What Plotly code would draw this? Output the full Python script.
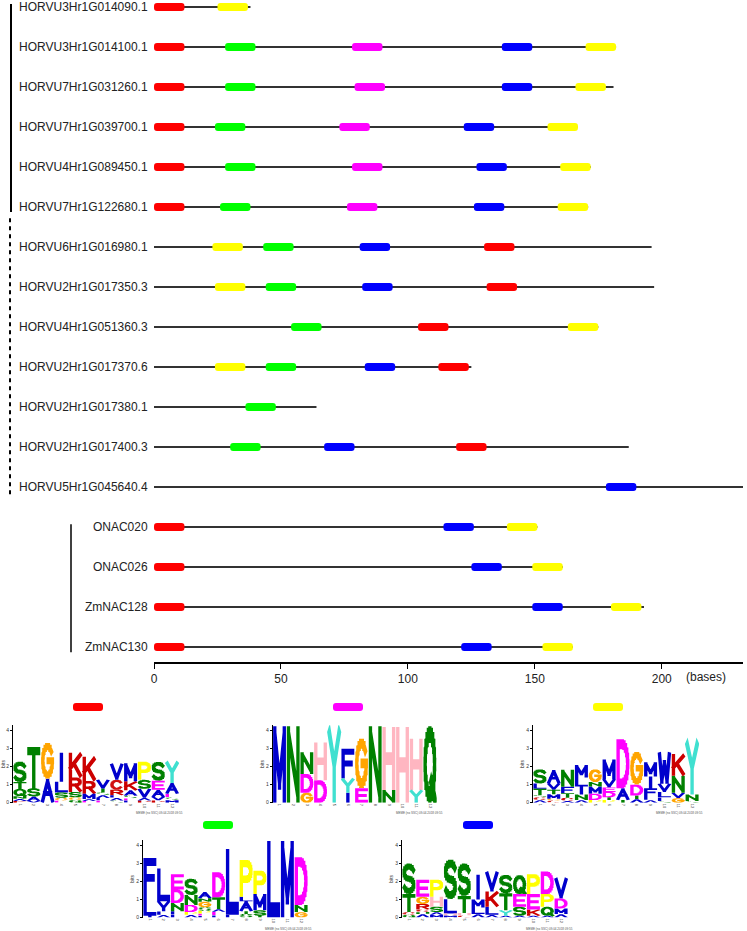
import math
import plotly.graph_objects as go

# ---------------- data: gene structures ----------------
genes = ["HORVU3Hr1G014090.1", "HORVU3Hr1G014100.1", "HORVU7Hr1G031260.1",
         "HORVU7Hr1G039700.1", "HORVU4Hr1G089450.1", "HORVU7Hr1G122680.1",
         "HORVU6Hr1G016980.1", "HORVU2Hr1G017350.3", "HORVU4Hr1G051360.3",
         "HORVU2Hr1G017370.6", "HORVU2Hr1G017380.1", "HORVU2Hr1G017400.3",
         "HORVU5Hr1G045640.4", "ONAC020", "ONAC026", "ZmNAC128", "ZmNAC130"]
lengths = [38, 182, 181, 167, 172, 171, 196, 197, 175, 125, 64, 187, 232, 151, 161, 193, 165]
MOTIF_LEN = 12
motif1_start = [0, 0, 0, 0, 0, 0, 130, 131, 104, 112, None, 119, None, 0, 0, 0, 0]
motif2_start = [None, 78, 79, 73, 78, 76, None, None, None, None, None, None, None, None, None, None, None]
motif3_start = [25, 170, 166, 155, 160, 159, 23, 24, 163, 24, None, None, None, 139, 149, 180, 153]
motif4_start = [None, 28, 28, 24, 28, 26, 43, 44, 54, 44, 36, 30, None, None, None, None, None]
motif5_start = [None, 137, 137, 122, 127, 126, 81, 82, None, 83, None, 67, 178, 114, 125, 149, 121]
motif_colors = ["#FF0000", "#FF00FF", "#FFFF00", "#00FF00", "#0000FF"]
x_ticks = [0, 50, 100, 150, 200]

# ---------------- data: motif logos (bottom -> top, bits) ----------------
logo1 = [
    [("K", 0.1), ("A", 0.12), ("N", 0.15), ("Q", 0.4), ("T", 0.38), ("S", 1.13)],
    [("V", 0.1), ("A", 0.25), ("S", 0.45), ("T", 2.3)],
    [("A", 1.33), ("G", 2.0)],
    [("E", 0.12), ("G", 0.15), ("S", 0.3), ("L", 0.6), ("I", 1.6)],
    [("Q", 0.15), ("G", 0.15), ("S", 0.3), ("R", 0.8), ("K", 1.38)],
    [("E", 0.1), ("A", 0.1), ("M", 0.3), ("R", 0.7), ("K", 1.35)],
    [("E", 0.12), ("L", 0.15), ("A", 0.15), ("S", 0.15), ("T", 0.2), ("V", 0.5)],
    [("S", 0.12), ("A", 0.15), ("L", 0.15), ("R", 0.3), ("C", 0.55), ("V", 0.9)],
    [("L", 0.12), ("E", 0.12), ("S", 0.15), ("A", 0.3), ("K", 0.5), ("M", 1.0)],
    [("R", 0.12), ("A", 0.15), ("V", 0.5), ("S", 0.5), ("P", 1.0)],
    [("R", 0.12), ("V", 0.2), ("A", 0.4), ("E", 0.5), ("S", 1.05)],
    [("M", 0.15), ("S", 0.15), ("E", 0.2), ("A", 0.6), ("Y", 1.2)],
]
logo2 = [
    [("M", 4.25)],
    [("N", 4.25)],
    [("G", 0.55), ("D", 1.05), ("N", 1.2)],
    [("D", 1.25), ("H", 2.1)],
    [("Y", 4.25)],
    [("I", 0.55), ("Y", 0.8), ("F", 1.65)],
    [("E", 0.8), ("G", 2.77)],
    [("N", 4.25)],
    [("N", 0.7), ("H", 3.5)],
    [("H", 4.2)],
    [("Y", 0.7), ("H", 2.85)],
    [("Q", 4.25)],
]
logo3 = [
    [("A", 0.15), ("C", 0.15), ("S", 0.12), ("T", 0.35), ("L", 0.3), ("S", 0.78)],
    [("C", 0.12), ("G", 0.1), ("M", 0.25), ("T", 0.25), ("V", 0.35), ("A", 0.75)],
    [("A", 0.1), ("C", 0.18), ("T", 0.25), ("F", 0.35), ("N", 0.95)],
    [("A", 0.15), ("N", 0.3), ("I", 0.45), ("L", 0.5), ("M", 0.7)],
    [("P", 0.15), ("D", 0.35), ("M", 0.4), ("N", 0.25), ("G", 0.7)],
    [("P", 0.15), ("T", 0.15), ("D", 0.3), ("E", 0.25), ("V", 0.45), ("M", 1.1)],
    [("T", 0.15), ("A", 0.65), ("D", 2.72)],
    [("A", 0.2), ("T", 0.2), ("D", 0.6), ("G", 1.83)],
    [("A", 0.15), ("L", 0.2), ("F", 0.45), ("I", 0.65), ("M", 0.8)],
    [("S", 0.1), ("F", 0.2), ("L", 0.3), ("V", 0.45), ("W", 1.75)],
    [("G", 0.25), ("V", 0.3), ("N", 0.95), ("K", 1.2)],
    [("S", 0.1), ("N", 0.35), ("Y", 3.05)],
]
logo4 = [
    [("I", 0.1), ("L", 1.0), ("F", 2.2)],
    [("A", 0.15), ("F", 0.2), ("I", 0.15), ("V", 0.4), ("L", 1.82)],
    [("F", 0.15), ("L", 0.2), ("N", 0.45), ("D", 0.75), ("E", 0.85)],
    [("A", 0.15), ("P", 0.15), ("D", 0.4), ("N", 0.55), ("S", 0.9)],
    [("F", 0.1), ("E", 0.12), ("P", 0.15), ("S", 0.2), ("G", 0.3), ("N", 0.2), ("A", 0.35)],
    [("F", 0.12), ("E", 0.2), ("A", 0.15), ("T", 0.65), ("D", 1.4)],
    [("F", 0.15), ("L", 3.65)],
    [("S", 0.2), ("T", 0.15), ("A", 0.55), ("L", 0.25), ("P", 2.05)],
    [("T", 0.1), ("S", 0.3), ("M", 0.9), ("P", 1.3)],
    [("L", 4.25)],
    [("M", 4.25)],
    [("G", 0.3), ("N", 0.4), ("D", 2.65)],
]
logo5 = [
    [("Q", 0.15), ("C", 0.15), ("T", 1.0), ("S", 1.7)],
    [("A", 0.2), ("N", 0.1), ("C", 0.15), ("R", 0.3), ("G", 0.4), ("E", 0.95)],
    [("M", 0.15), ("A", 0.15), ("S", 0.3), ("H", 0.55), ("P", 0.95)],
    [("M", 0.12), ("H", 0.1), ("L", 0.8), ("S", 2.2)],
    [("C", 0.12), ("H", 0.13), ("T", 0.95), ("S", 1.8)],
    [("A", 0.2), ("L", 0.35), ("M", 0.45), ("I", 1.37)],
    [("A", 0.15), ("L", 0.45), ("K", 0.85), ("V", 1.1)],
    [("A", 0.1), ("Y", 0.3), ("T", 0.95), ("S", 1.02)],
    [("A", 0.1), ("S", 0.5), ("E", 0.7), ("Q", 1.05)],
    [("A", 0.1), ("K", 0.35), ("E", 0.85), ("P", 1.1)],
    [("A", 0.1), ("Q", 0.5), ("P", 0.7), ("D", 1.25)],
    [("A", 0.2), ("M", 0.3), ("D", 0.55), ("V", 1.15)],
]
logo_stamp = "MEME (no SSC) 09.04.2018 09:55"

LETTER_COLORS = {}
for c in "ACFILMVW":
    LETTER_COLORS[c] = "#0000CC"
for c in "NQST":
    LETTER_COLORS[c] = "#008000"
for c in "DE":
    LETTER_COLORS[c] = "#FF00FF"
for c in "KR":
    LETTER_COLORS[c] = "#CC0000"
LETTER_COLORS["C"] = "#D01010"
LETTER_COLORS["H"] = "#FFB6C1"
LETTER_COLORS["G"] = "#FFA500"
LETTER_COLORS["P"] = "#FFFF00"
LETTER_COLORS["Y"] = "#40E0D0"

# ---------------- stroke glyphs (design box 1 x 1.3) ----------------
H0 = 1.3
T = 0.26
xl, xr, yb, yt, ym = T / 2, 1 - T / 2, T / 2, H0 - T / 2, H0 / 2


def arc(cx, cy, rx, ry, a0, a1, n=12):
    return [(cx + rx * math.cos(math.radians(a0 + (a1 - a0) * i / n)),
             cy + ry * math.sin(math.radians(a0 + (a1 - a0) * i / n))) for i in range(n + 1)]


RX, RY = 0.5 - T / 2, ym - T / 2
P_bowl = [(xl, yt), (0.55, yt)] + arc(0.55, (yt + 0.62) / 2, xr - 0.55, (yt - 0.62) / 2, 90, -90, 8) + [(xl, 0.62)]
S_path = arc(0.5, (yt + ym) / 2, RX, (yt - ym) / 2, 25, 270, 10) + arc(0.5, (ym + yb) / 2, RX, (ym - yb) / 2, 90, -155, 10)[1:]
GLYPHS = {
    "A": [[(xl, yb), (0.5, yt), (xr, yb)], [(0.27, 0.5), (0.73, 0.5)]],
    "C": [arc(0.5, ym, RX, RY, 40, 320, 14)],
    "D": [[(xl, yb), (xl, yt)], [(xl, yt), (0.45, yt)] + arc(0.45, ym, xr - 0.45, RY, 90, -90, 10) + [(xl, yb)]],
    "E": [[(xr, yt), (xl, yt), (xl, yb), (xr, yb)], [(xl, ym), (0.78, ym)]],
    "F": [[(xr, yt), (xl, yt), (xl, yb)], [(xl, ym), (0.75, ym)]],
    "G": [arc(0.5, ym, RX, RY, 40, 360, 16) + [(0.55, ym)]],
    "H": [[(xl, yb), (xl, yt)], [(xr, yb), (xr, yt)], [(xl, ym), (xr, ym)]],
    "I": [[(0.5, yb), (0.5, yt)]],
    "K": [[(xl, yb), (xl, yt)], [(xr, yt), (xl, 0.5)], [(0.4, 0.72), (xr, yb)]],
    "L": [[(xl, yt), (xl, yb), (xr, yb)]],
    "M": [[(xl, yb), (xl, yt), (0.5, 0.35), (xr, yt), (xr, yb)]],
    "N": [[(xl, yb), (xl, yt), (xr, yb), (xr, yt)]],
    "P": [[(xl, yb), (xl, yt)], P_bowl],
    "Q": [arc(0.5, ym, RX, RY, 0, 360, 20), [(0.6, 0.35), (0.9, 0.05)]],
    "R": [[(xl, yb), (xl, yt)], P_bowl, [(0.5, 0.62), (xr, yb)]],
    "S": [S_path],
    "T": [[(xl, yt), (xr, yt)], [(0.5, yt), (0.5, yb)]],
    "V": [[(xl, yt), (0.5, yb), (xr, yt)]],
    "W": [[(xl, yt), (0.3, yb), (0.5, 0.85), (0.7, yb), (xr, yt)]],
    "Y": [[(xl, yt), (0.5, ym), (xr, yt)], [(0.5, ym), (0.5, yb)]],
}


def ccw(pts):
    a = sum(pts[i][0] * pts[(i + 1) % len(pts)][1] - pts[(i + 1) % len(pts)][0] * pts[i][1]
            for i in range(len(pts)))
    return pts if a >= 0 else pts[::-1]


def glyph_polys(letter, x0, y0, w, h):
    out = []
    e = T / 2
    for line in GLYPHS[letter]:
        n = len(line)
        for i in range(n - 1):
            p, q = line[i], line[i + 1]
            dx, dy = q[0] - p[0], q[1] - p[1]
            L = math.hypot(dx, dy)
            if L < 1e-9:
                continue
            ux, uy = dx / L, dy / L
            nx, ny = -uy, ux
            ps = (p[0] - ux * e, p[1] - uy * e) if i == 0 else p
            qs = (q[0] + ux * e, q[1] + uy * e) if i == n - 2 else q
            out.append(ccw([(ps[0] + nx * e, ps[1] + ny * e), (qs[0] + nx * e, qs[1] + ny * e),
                            (qs[0] - nx * e, qs[1] - ny * e), (ps[0] - nx * e, ps[1] - ny * e)]))
        for v in line[1:-1]:
            out.append([(v[0] - e, v[1] - e), (v[0] + e, v[1] - e), (v[0] + e, v[1] + e), (v[0] - e, v[1] + e)])
    return [[(x0 + px * w, y0 + py / H0 * h) for px, py in poly] for poly in out]


# ---------------- figure ----------------
W, H = 747, 931
fig = go.Figure()
rows = list(range(len(genes)))

# backbone lines
fig.add_trace(go.Bar(y=rows, x=lengths, base=[0] * len(rows), orientation="h", width=0.04,
                     marker=dict(color="#333333", line=dict(width=0)), hoverinfo="skip"))
for starts, color in zip([motif1_start, motif2_start, motif3_start, motif4_start, motif5_start], motif_colors):
    ys = [r for r, s in zip(rows, starts) if s is not None]
    bs = [s for s in starts if s is not None]
    fig.add_trace(go.Bar(y=ys, x=[MOTIF_LEN] * len(ys), base=bs, orientation="h", width=0.2,
                         marker=dict(color=color, cornerradius=3, line=dict(width=0)), hoverinfo="skip"))

# logos: pixel layout
logo_boxes = [  # (x_left, x_right, y_zero) in pixels
    (13, 179, 802.7), (272.7, 436.7, 802.7), (533, 699, 802.7),
    (143, 308, 917.5), (402, 568, 917.5)]
PX_PER_BIT = 18.0
Y_TOP = 4.3
bar_pos = [(73, 707), (333, 707), (593, 707), (203, 825), (463, 825)]
stamp_pos = [(159, 813), (419.5, 813), (679, 813), (288, 928.5), (549, 928.5)]

layout_axes = {}
for li, stacks in enumerate([logo1, logo2, logo3, logo4, logo5]):
    ax = li + 2
    by_color = {}
    for pos, stack in enumerate(stacks, start=1):
        y0 = 0.0
        for letter, hgt in stack:
            if hgt >= 0.05:
                by_color.setdefault(LETTER_COLORS[letter], []).extend(
                    glyph_polys(letter, pos - 0.47, y0, 0.94, hgt))
            y0 += hgt
    for color, polys in by_color.items():
        xs, ys = [], []
        for poly in polys:
            xs += [p[0] for p in poly] + [poly[0][0], None]
            ys += [p[1] for p in poly] + [poly[0][1], None]
        fig.add_trace(go.Scatter(x=xs, y=ys, mode="lines", fill="toself", fillcolor=color,
                                 line=dict(width=0, color=color), hoverinfo="skip",
                                 xaxis=f"x{ax}", yaxis=f"y{ax}"))
    xlft, xrgt, yz = logo_boxes[li]
    layout_axes[f"xaxis{ax}"] = dict(domain=[xlft / W, xrgt / W], range=[0.5, 12.5], anchor=f"y{ax}",
                                     tickvals=list(range(1, 13)), ticktext=[str(i) for i in range(1, 13)],
                                     tickangle=90, tickfont=dict(size=4, color="#333"), ticks="",
                                     showgrid=False, zeroline=False, showline=False, automargin=False)
    layout_axes[f"yaxis{ax}"] = dict(domain=[1 - yz / H, 1 - (yz - Y_TOP * PX_PER_BIT) / H], range=[0, Y_TOP],
                                     anchor=f"x{ax}", tickvals=[0, 1, 2, 3, 4], ticks="outside", ticklen=2,
                                     tickwidth=0.8, tickcolor="#000", showline=True, linewidth=0.8,
                                     linecolor="#000", tickfont=dict(size=5, color="#333"),
                                     title=dict(text="bits", font=dict(size=5, color="#333"), standoff=1),
                                     showgrid=False, zeroline=False, automargin=False)

shapes = []
# group brackets
shapes.append(dict(type="line", xref="paper", yref="y", x0=11 / W, x1=11 / W, y0=-0.075, y1=5.125,
                   line=dict(color="#000", width=2)))
shapes.append(dict(type="line", xref="paper", yref="y", x0=10 / W, x1=10 / W, y0=5.28, y1=12.2,
                   line=dict(color="#000", width=2, dash="4px,4px")))
shapes.append(dict(type="line", xref="paper", yref="y", x0=71 / W, x1=71 / W, y0=12.93, y1=16.13,
                   line=dict(color="#000", width=1.5)))


def rounded(xp, yp, wpx, hpx, r):
    x0, x1 = xp / W, (xp + wpx) / W
    y0, y1 = 1 - (yp + hpx / 2) / H, 1 - (yp - hpx / 2) / H
    rx, ry = r / W, r / H
    return (f"M {x0+rx},{y0} L {x1-rx},{y0} Q {x1},{y0} {x1},{y0+ry} L {x1},{y1-ry} "
            f"Q {x1},{y1} {x1-rx},{y1} L {x0+rx},{y1} Q {x0},{y1} {x0},{y1-ry} "
            f"L {x0},{y0+ry} Q {x0},{y0} {x0+rx},{y0} Z")


for (bx, by), col in zip(bar_pos, motif_colors):
    shapes.append(dict(type="path", xref="paper", yref="paper", path=rounded(bx, by, 30, 8, 3),
                       fillcolor=col, line=dict(width=0)))

annotations = [dict(text="(bases)", xref="paper", yref="paper", x=706 / W, y=1 - 677 / H,
                    showarrow=False, font=dict(size=12, color="#222"), xanchor="center", yanchor="middle")]
for sx, sy in stamp_pos:
    annotations.append(dict(text=logo_stamp, xref="paper", yref="paper", x=sx / W, y=1 - sy / H,
                            showarrow=False, font=dict(size=3, color="#555"), xanchor="center",
                            yanchor="middle"))

fig.update_layout(
    width=W, height=H, margin=dict(l=0, r=0, t=0, b=0, autoexpand=False),
    paper_bgcolor="white", plot_bgcolor="white", showlegend=False, barmode="overlay",
    font=dict(family="Arial, Liberation Sans, sans-serif", color="#222"),
    xaxis=dict(domain=[154 / W, 743 / W], range=[0, 232], anchor="y", showline=True, linecolor="#000",
               linewidth=1.5, ticks="outside", ticklen=5, tickwidth=1.2, tickcolor="#000",
               tickvals=x_ticks, tickfont=dict(size=12, color="#222"), showgrid=False, zeroline=False,
               automargin=False),
    yaxis=dict(domain=[1 - 662 / H, 1], range=[16.375, -0.175], tickvals=rows, ticktext=genes,
               ticks="outside", ticklen=3, tickcolor="rgba(0,0,0,0)",
               showline=False, showgrid=False, zeroline=False, tickfont=dict(size=12, color="#222"),
               automargin=False),
    shapes=shapes, annotations=annotations,
    **layout_axes,
)

fig.write_html("out.html", config={"displayModeBar": False},
               post_script="document.body.style.margin='0';document.body.style.padding='0';"
                           "document.documentElement.style.overflow='hidden';")
